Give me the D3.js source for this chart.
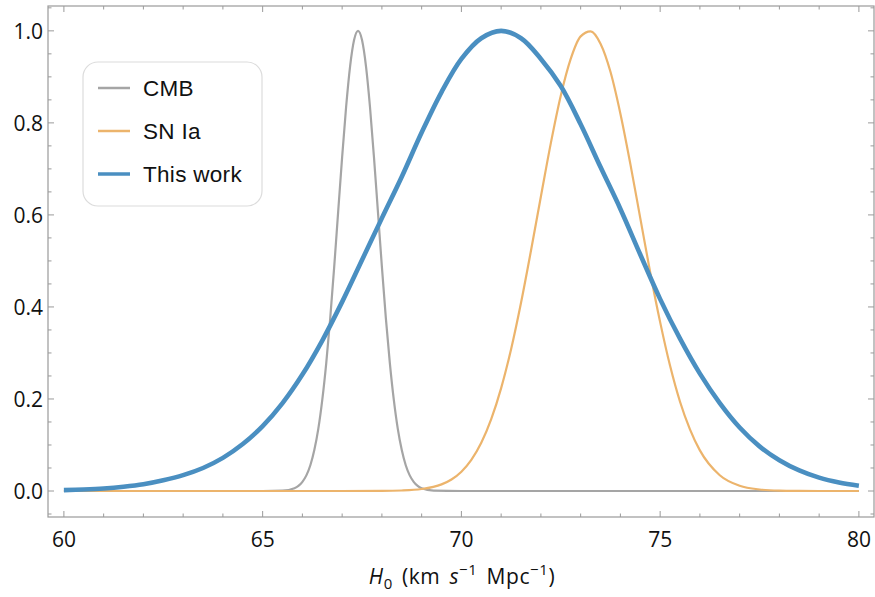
<!DOCTYPE html>
<html>
<head>
<meta charset="utf-8">
<script src="https://cdn.jsdelivr.net/npm/d3@7"></script>
<style>
  body { margin: 0; background: #fff; }
</style>
</head>
<body>
<div id="chart"></div>
<script>
// values (normalised likelihoods)
const cmbX = [60, 62, 64, 65, 65.5, 65.8, 65.9, 66.0, 66.1, 66.2, 66.3, 66.4, 66.5, 66.6, 66.7, 66.8, 66.9, 67.0, 67.1, 67.2, 67.3, 67.4,
  67.5, 67.6, 67.7, 67.8, 67.9, 68.0, 68.1, 68.2, 68.3, 68.4, 68.5, 68.6, 68.7, 68.8, 68.9, 69.0, 69.3, 70, 72, 75, 78, 80];
const cmbY = [0, 0, 0, 0, 0.0007, 0.006, 0.011, 0.020, 0.034, 0.056, 0.089, 0.135, 0.198, 0.278, 0.375, 0.487, 0.607, 0.726, 0.835, 0.923, 0.980, 1.0,
  0.980, 0.923, 0.835, 0.726, 0.607, 0.487, 0.375, 0.278, 0.198, 0.135, 0.089, 0.056, 0.034, 0.020, 0.011, 0.006, 0.001, 0, 0, 0, 0, 0];

const snX = [60, 64, 66, 67, 68, 68.5, 69, 69.5, 69.75, 70, 70.25, 70.5, 70.75, 71, 71.25, 71.5, 71.75, 72, 72.25, 72.5, 72.75, 73, 73.25,
  73.5, 73.75, 74, 74.25, 74.5, 74.75, 75, 75.25, 75.5, 75.75, 76, 76.5, 77, 77.5, 78, 78.5, 79, 80];
const snY = [0, 0, 0, 0, 0.0002, 0.0011, 0.0043, 0.0144, 0.0251, 0.042, 0.0676, 0.1047, 0.156, 0.2235, 0.308, 0.409, 0.522, 0.640, 0.756, 0.859, 0.939, 0.988, 0.999,
  0.972, 0.911, 0.820, 0.711, 0.593, 0.475, 0.367, 0.272, 0.194, 0.134, 0.0883, 0.0343, 0.0114, 0.0033, 0.0008, 0.0002, 0, 0];

const workX = [60, 60.5, 61, 61.5, 62, 62.5, 63, 63.5, 64, 64.5, 65, 65.5, 66, 66.5, 67, 67.5, 68, 68.5, 69, 69.5, 70, 70.5, 71,
  71.5, 72, 72.5, 73, 73.5, 74, 74.5, 75, 75.5, 76, 76.5, 77, 77.5, 78, 78.5, 79, 79.5, 80];
const workY = [0.002, 0.0034, 0.0056, 0.0093, 0.0147, 0.0233, 0.0345, 0.050, 0.072, 0.102, 0.141, 0.191, 0.253, 0.327, 0.411, 0.502, 0.593, 0.683, 0.779, 0.867, 0.939, 0.984, 1.0,
  0.984, 0.939, 0.880, 0.797, 0.704, 0.613, 0.514, 0.417, 0.331, 0.255, 0.191, 0.138, 0.097, 0.067, 0.0447, 0.029, 0.0185, 0.0114];

const seriesNames = ["CMB", "SN Ia", "This work"];
const seriesColors = ["#a5a5a5", "#ecb46c", "#4a8fc1"];
const seriesWidths = [2.2, 2.2, 4.6];
const seriesData = [[cmbX, cmbY], [snX, snY], [workX, workY]];

const xMajor = [60, 65, 70, 75, 80];
const yMajor = [0.0, 0.2, 0.4, 0.6, 0.8, 1.0];

const W = 875, H = 597;
const frame = { left: 48, right: 874, top: 6, bottom: 517 };

const svg = d3.select("#chart").append("svg")
  .attr("width", W).attr("height", H);

const x = d3.scaleLinear().domain([59.6, 80.38]).range([frame.left, frame.right]);
const y = d3.scaleLinear().domain([-0.0565, 1.054]).range([frame.bottom, frame.top]);

const frameColor = "#9a9a9a";

// frame
svg.append("rect")
  .attr("x", frame.left).attr("y", frame.top)
  .attr("width", frame.right - frame.left).attr("height", frame.bottom - frame.top)
  .attr("fill", "none").attr("stroke", frameColor).attr("stroke-width", 1.2);

// ticks (inside the frame, Mathematica style)
const xMinor = d3.range(60, 80.5, 1).filter(v => !xMajor.includes(v));
const yMinor = d3.range(-0.05, 1.06, 0.05).map(v => +v.toFixed(2)).filter(v => !yMajor.includes(v));

const ticks = svg.append("g").attr("stroke", frameColor).attr("stroke-width", 1);
function xTicks(vals, len) {
  vals.forEach(v => {
    ticks.append("line").attr("x1", x(v)).attr("x2", x(v)).attr("y1", frame.bottom).attr("y2", frame.bottom - len);
    ticks.append("line").attr("x1", x(v)).attr("x2", x(v)).attr("y1", frame.top).attr("y2", frame.top + len);
  });
}
function yTicks(vals, len) {
  vals.forEach(v => {
    ticks.append("line").attr("y1", y(v)).attr("y2", y(v)).attr("x1", frame.left).attr("x2", frame.left + len);
    ticks.append("line").attr("y1", y(v)).attr("y2", y(v)).attr("x1", frame.right).attr("x2", frame.right - len);
  });
}
xTicks(xMajor, 6); xTicks(xMinor, 3.5);
yTicks(yMajor, 6); yTicks(yMinor, 3.5);

// tick labels
svg.append("g").selectAll("text")
  .data(xMajor).join("text")
  .attr("x", d => x(d)).attr("y", 547)
  .attr("text-anchor", "middle")
  .style("font-family", "Open Sans").style("font-size", "21px").attr("fill", "#111")
  .text(d => d);

svg.append("g").selectAll("text")
  .data(yMajor).join("text")
  .attr("x", 43).attr("y", d => y(d))
  .attr("text-anchor", "end").attr("dominant-baseline", "central")
  .style("font-family", "Open Sans").style("font-size", "21px").attr("fill", "#111")
  .text(d => d.toFixed(1));

// axis label
const lab = svg.append("text")
  .attr("x", 462).attr("y", 584)
  .attr("text-anchor", "middle")
  .style("font-family", "Open Sans").style("font-size", "21px")
  .style("letter-spacing", "0.6px").style("word-spacing", "3px").attr("fill", "#111");
lab.append("tspan").style("font-style", "italic").text("H");
lab.append("tspan").attr("dy", 5).style("font-size", "15px").text("0");
lab.append("tspan").attr("dy", -5).text(" (km ");
lab.append("tspan").style("font-style", "italic").text("s");
lab.append("tspan").attr("dy", -9).style("font-size", "15px").text("\u22121");
lab.append("tspan").attr("dy", 9).text(" Mpc");
lab.append("tspan").attr("dy", -9).style("font-size", "15px").text("\u22121");
lab.append("tspan").attr("dy", 9).text(")");

// curves
const lineMono = d3.line()
  .x(d => x(d[0])).y(d => y(d[1]))
  .curve(d3.curveMonotoneX);
const lineSmooth = d3.line()
  .x(d => x(d[0])).y(d => y(d[1]))
  .curve(d3.curveCatmullRom.alpha(0.5));

const plot = svg.append("g");
seriesData.forEach((s, i) => {
  const pts = s[0].map((v, j) => [v, s[1][j]]);
  plot.append("path")
    .datum(pts)
    .attr("fill", "none")
    .attr("stroke", seriesColors[i])
    .attr("stroke-width", seriesWidths[i])
    .attr("stroke-linejoin", "round")
    .attr("d", i === 2 ? lineSmooth : lineMono);
});

// legend
const legend = svg.append("g");
legend.append("rect")
  .attr("x", 83).attr("y", 62).attr("width", 179).attr("height", 144)
  .attr("rx", 15).attr("ry", 15)
  .attr("fill", "#fff").attr("stroke", "#dcdcdc").attr("stroke-width", 1.2);

seriesNames.forEach((name, i) => {
  const ly = 88 + i * 43;
  legend.append("line")
    .attr("x1", 98).attr("x2", 130).attr("y1", ly).attr("y2", ly)
    .attr("stroke", seriesColors[i]).attr("stroke-width", i === 2 ? 3.5 : 2.5);
  legend.append("text")
    .attr("x", 143).attr("y", ly)
    .attr("dominant-baseline", "central")
    .style("font-family", "Liberation Sans, Arial, sans-serif").style("font-size", "22.5px")
    .style("letter-spacing", "0.3px").attr("fill", "#111")
    .text(name);
});
</script>
</body>
</html>
